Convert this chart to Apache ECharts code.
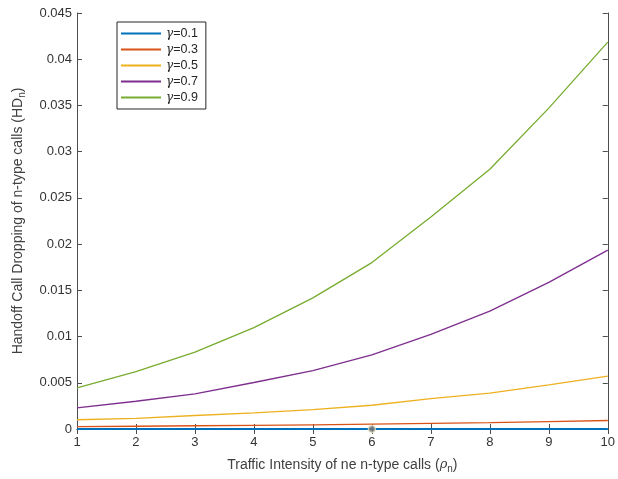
<!DOCTYPE html>
<html>
<head>
<meta charset="utf-8">
<script src="https://cdn.jsdelivr.net/npm/echarts@6/dist/echarts.min.js"></script>
<style>html,body{margin:0;padding:0;background:#fff;}#c{width:618px;height:479px;}</style>
</head>
<body>
<div id="c"></div>
<script>
var xValues = [1, 2, 3, 4, 5, 6, 7, 8, 9, 10];
var seriesNames = ['γ=0.1', 'γ=0.3', 'γ=0.5', 'γ=0.7', 'γ=0.9'];
var g01 = [0.00001, 0.00001, 0.00001, 0.00001, 0.00001, 0.00001, 0.00001, 0.00001, 0.00001, 0.00001];
var g03 = [0.00025, 0.0003, 0.00035, 0.0004, 0.00045, 0.00052, 0.0006, 0.00068, 0.0008, 0.00092];
var g05 = [0.0010, 0.00114, 0.00146, 0.00175, 0.0021, 0.00257, 0.00328, 0.00389, 0.00478, 0.00571];
var g07 = [0.00228, 0.0030, 0.00381, 0.00503, 0.00632, 0.00803, 0.01024, 0.01275, 0.01586, 0.01935];
var g09 = [0.00446, 0.00621, 0.00831, 0.01096, 0.01418, 0.0180, 0.02293, 0.0281, 0.03471, 0.04185];
var markerPoint = [[6, 0]];
var colors = ['#0072BD', '#D95319', '#EDB120', '#7E2F8E', '#77AC30'];
var allSeries = [g01, g03, g05, g07, g09];

var chart = echarts.init(document.getElementById('c'), null, {renderer: 'canvas'});
var axisCol = '#4d4d4d';
var font = 'Liberation Sans, Arial, sans-serif';

var series = allSeries.map(function (vals, i) {
  return {
    name: seriesNames[i],
    type: 'line',
    data: xValues.map(function (x, j) { return [x, vals[j]]; }),
    showSymbol: false,
    symbol: 'none',
    lineStyle: {color: colors[i], width: i === 0 ? 2 : 1.3},
    itemStyle: {color: colors[i]},
    z: i === 0 ? 4 : 3,
    animation: false
  };
});
series.push({
  type: 'scatter',
  data: markerPoint,
  symbolSize: 7,
  itemStyle: {color: '#777', borderColor: '#e8e4c8', borderWidth: 1.5},
  z: 5,
  animation: false
});

chart.setOption({
  animation: false,
  color: colors,
  grid: {left: 77, right: 10, top: 13, bottom: 47},
  legend: {
    data: seriesNames,
    orient: 'vertical',
    left: 117,
    top: 22,
    itemWidth: 40,
    itemHeight: 2,
    itemGap: 3,
    padding: [5, 8, 5, 4],
    borderColor: '#262626',
    borderWidth: 1,
    backgroundColor: '#fff',
    icon: 'rect',
    formatter: function (n) { return '{g|γ}' + n.slice(1); },
    textStyle: {
      fontFamily: font, fontSize: 12.5, color: '#262626',
      rich: {g: {fontFamily: 'DejaVu Serif, serif', fontStyle: 'italic', fontSize: 12, color: '#262626'}}
    }
  },
  xAxis: [{
    type: 'value', min: 1, max: 10, interval: 1,
    name: 'Traffic Intensity of ne n-type calls ({g|ρ}{s|n})',
    nameLocation: 'middle', nameGap: 27,
    nameTextStyle: {fontFamily: font, fontSize: 14, color: '#404040',
      rich: {g: {fontFamily: 'DejaVu Serif, serif', fontStyle: 'italic', fontSize: 13, color: '#404040'},
             s: {fontSize: 10, color: '#404040', padding: [8, 0, 0, 0]}}},
    axisLine: {lineStyle: {color: axisCol, width: 1}},
    axisTick: {inside: true, length: 5, lineStyle: {color: axisCol}},
    axisLabel: {fontFamily: font, fontSize: 13, color: '#333', margin: 7},
    splitLine: {show: false}
  }, {
    type: 'value', min: 1, max: 10, interval: 1, position: 'top',
    axisLine: {show: true, lineStyle: {color: axisCol, width: 1}},
    axisTick: {inside: true, length: 5, lineStyle: {color: axisCol}},
    axisLabel: {show: false},
    splitLine: {show: false}
  }],
  yAxis: [{
    type: 'value', min: 0, max: 0.045, interval: 0.005,
    name: 'Handoff Call Dropping of n-type calls (HD{s|n})',
    nameLocation: 'middle', nameGap: 50,
    nameTextStyle: {fontFamily: font, fontSize: 14, color: '#404040',
      rich: {s: {fontSize: 10, color: '#404040', padding: [8, 0, 0, 0]}}},
    axisLine: {show: true, lineStyle: {color: axisCol, width: 1}},
    axisTick: {inside: true, length: 5, lineStyle: {color: axisCol}},
    axisLabel: {fontFamily: font, fontSize: 13, color: '#333', margin: 5,
      formatter: function (v) { return v === 0 ? '0' : String(+v.toFixed(3)); }},
    splitLine: {show: false}
  }, {
    type: 'value', min: 0, max: 0.045, interval: 0.005, position: 'right',
    axisLine: {show: true, lineStyle: {color: axisCol, width: 1}},
    axisTick: {inside: true, length: 5, lineStyle: {color: axisCol}},
    axisLabel: {show: false},
    splitLine: {show: false}
  }],
  series: series
});
</script>
</body>
</html>
